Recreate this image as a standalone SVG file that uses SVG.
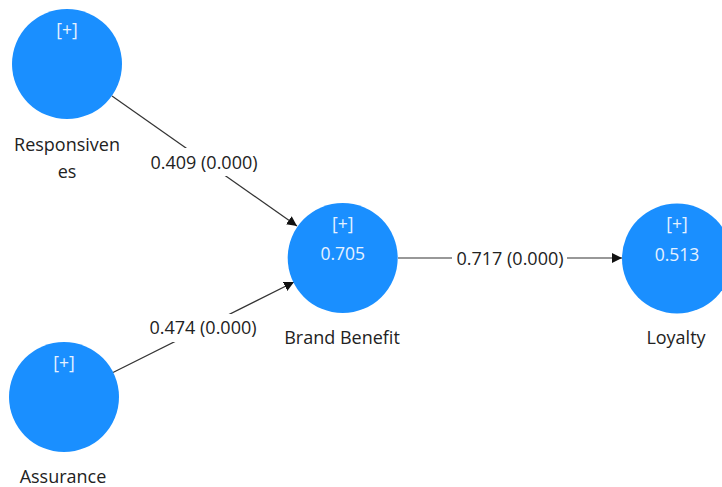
<svg xmlns="http://www.w3.org/2000/svg" width="722" height="487" viewBox="0 0 722 487">
<defs>
<marker id="arr" viewBox="0 0 10 10" refX="10" refY="5" markerWidth="10" markerHeight="10" markerUnits="userSpaceOnUse" orient="auto">
<path d="M0,0 L10,5 L0,10 z" fill="#111"/>
</marker>
<style>
.n{fill:#1a8fff}
.in{font-family:"Open Sans","Noto Sans",sans-serif;font-size:17.5px;fill:#e6f2ff;text-anchor:middle}
.lb{font-family:"Open Sans","Noto Sans",sans-serif;font-size:18px;fill:#222;text-anchor:middle}
.e{stroke:#333;stroke-width:1.2;fill:none}
.bg{fill:#fff}
</style>
</defs>
<rect width="722" height="487" fill="#fff"/>
<g id="connectors">
<line class="e" x1="112" y1="96" x2="297" y2="226" marker-end="url(#arr)"/>
<line class="e" x1="113" y1="372.5" x2="294" y2="282" marker-end="url(#arr)"/>
<line class="e" x1="398" y1="258" x2="622" y2="258" marker-end="url(#arr)"/>
<rect class="bg" x="146" y="148" width="115" height="28"/>
<text class="lb" x="204" y="169">0.409 (0.000)</text>
<rect class="bg" x="145" y="314" width="115" height="28"/>
<text class="lb" x="203" y="334">0.474 (0.000)</text>
<rect class="bg" x="452" y="246" width="115" height="26"/>
<text class="lb" x="510" y="265">0.717 (0.000)</text>
</g>
<g id="responsiveness">
<circle class="n" cx="67" cy="64" r="55"/>
<text class="in" x="67" y="36">[+]</text>
<text class="lb" x="67" y="151">Responsiven</text>
<text class="lb" x="67" y="178">es</text>
</g>
<g id="assurance">
<circle class="n" cx="64" cy="397" r="55"/>
<text class="in" x="64" y="369">[+]</text>
<text class="lb" x="63" y="483">Assurance</text>
</g>
<g id="brand-benefit">
<circle class="n" cx="342.7" cy="258" r="55"/>
<text class="in" x="342.7" y="230">[+]</text>
<text class="in" x="342.7" y="260">0.705</text>
<text class="lb" x="342" y="344">Brand Benefit</text>
</g>
<g id="loyalty">
<circle class="n" cx="677" cy="258.5" r="55"/>
<text class="in" x="677" y="230">[+]</text>
<text class="in" x="677" y="261">0.513</text>
<text class="lb" x="676" y="344">Loyalty</text>
</g>
</svg>
